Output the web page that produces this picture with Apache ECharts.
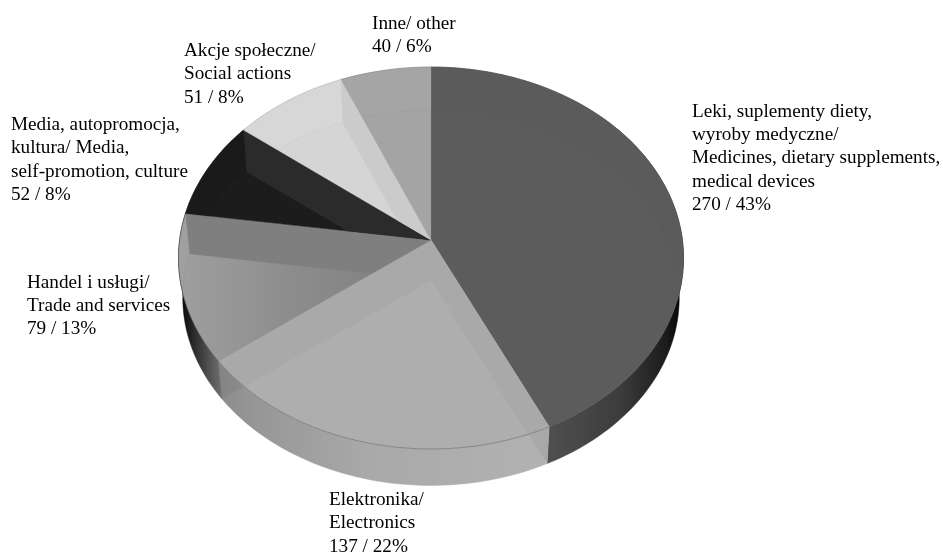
<!DOCTYPE html>
<html>
<head>
<meta charset="utf-8">
<style>html,body{margin:0;padding:0;background:#fff}#chart{width:943px;height:552px}</style>
<script src="https://cdn.jsdelivr.net/npm/echarts@6/dist/echarts.min.js"></script>
</head>
<body>
<div id="chart"></div>
<script>
// Advertising spend categories and their counts / shares
const categories = [
  ['Leki, suplementy diety,', 'wyroby medyczne/', 'Medicines, dietary supplements,', 'medical devices'],
  ['Elektronika/', 'Electronics'],
  ['Handel i usługi/', 'Trade and services'],
  ['Media, autopromocja,', 'kultura/ Media,', 'self-promotion, culture'],
  ['Akcje społeczne/', 'Social actions'],
  ['Inne/ other']
];
const values = [270, 137, 79, 52, 51, 40];
const percents = [43, 22, 13, 8, 8, 6];

// Label anchors (left edge, first line centre)
const labelX = [692, 329, 27, 11, 184, 372];
const labelY = [111.5, 500, 282.5, 125, 51, 24];
const LINE = 23.4;

// Slice shading: top face, radial-wall tint seen through it
const topFill = ['#5b5b5b', '#afafaf', null, '#1a1a1a', '#d7d7d7', '#a5a5a5'];
const wallTint = [null, '#a9a9a9', '#7f7f7f', '#2b2b2b', '#cbcbcb', null];
const wallStops = [
  [[0, '#585858'], [0.45, '#505050'], [0.75, '#3c3c3c'], [0.93, '#1c1c1c'], [1, '#000000']],
  [[0, '#8c8c8c'], [0.12, '#979797'], [0.45, '#a9a9a9'], [1, '#b2b2b2']],
  [[0, '#000000'], [0.35, '#2a2a2a'], [0.8, '#5c5c5c'], [1, '#6e6e6e']],
  [[0, '#222222'], [1, '#222222']],
  [[0, '#c8c8c8'], [1, '#c8c8c8']],
  [[0, '#999999'], [1, '#999999']]
];

// Perspective disc: centre, radius, tilt and the lower face of the cylinder
const CX = 431, TOP_Y = 240, BOTTOM_Y = 280, R = 251.4, H = 189.3, K = 0.0942, BOTTOM_SCALE = 0.983;

const total = values.reduce((a, b) => a + b, 0);
let running = 0;
const rows = values.map((v, i) => {
  const row = [v, running / total * 360, (running + v) / total * 360, i];
  running += v;
  return row;
});

function project(deg, apexY, scale) {
  const t = deg * Math.PI / 180, u = Math.sin(t), v = Math.cos(t), d = 1 + K * v;
  return [CX + R * scale * u / d, apexY - H * scale * v / d];
}
function arc(a0, a1, apexY, scale) {
  const n = Math.max(2, Math.ceil((a1 - a0) / 1.5)), pts = [];
  for (let j = 0; j <= n; j++) pts.push(project(a0 + (a1 - a0) * j / n, apexY, scale));
  return pts;
}
function signedArea(p) {
  let s = 0;
  for (let i = 0; i < p.length; i++) {
    const a = p[i], b = p[(i + 1) % p.length];
    s += a[0] * b[1] - b[0] * a[1];
  }
  return s;
}
// Sutherland-Hodgman clip of a polygon against a convex window
function clip(subject, win) {
  const sign = signedArea(win) > 0 ? 1 : -1;
  let out = subject;
  for (let i = 0; i < win.length && out.length; i++) {
    const a = win[i], b = win[(i + 1) % win.length];
    const side = p => sign * ((b[0] - a[0]) * (p[1] - a[1]) - (b[1] - a[1]) * (p[0] - a[0]));
    const input = out;
    out = [];
    for (let j = 0; j < input.length; j++) {
      const p = input[j], q = input[(j + 1) % input.length], sp = side(p), sq = side(q);
      if (sp >= 0) out.push(p);
      if ((sp >= 0) !== (sq >= 0)) {
        const f = sp / (sp - sq);
        out.push([p[0] + (q[0] - p[0]) * f, p[1] + (q[1] - p[1]) * f]);
      }
    }
  }
  return out;
}
function poly(points, style) {
  return { type: 'polygon', shape: { points }, style };
}
function radialWall(deg) {
  return [[CX, TOP_Y], project(deg, TOP_Y, 1), project(deg, BOTTOM_Y, BOTTOM_SCALE), [CX, BOTTOM_Y]];
}

// Outer rim of the cylinder, with the near radial wall showing through it
function renderWall(params, api) {
  const a0 = api.value(1), a1 = api.value(2), i = api.value(3);
  const topArc = arc(a0, a1, TOP_Y, 1), botArc = arc(a0, a1, BOTTOM_Y, BOTTOM_SCALE);
  const outline = topArc.concat(botArc.slice().reverse());
  const xs = outline.map(p => p[0]);
  const x0 = Math.min.apply(null, xs), x1 = Math.max.apply(null, xs);
  const fill = new echarts.graphic.LinearGradient(x0, 0, x1, 0,
    wallStops[i].map(s => ({ offset: s[0], color: s[1] })), true);
  const children = [poly(outline, { fill, stroke: fill, lineWidth: 0.5 })];
  if (wallTint[i]) {
    [a0, a1].forEach(deg => {
      const seen = clip(outline, radialWall(deg));
      if (seen.length > 2) children.push(poly(seen, { fill: 'rgba(0,0,0,0.05)' }));
    });
  }
  return { type: 'group', children };
}

// Top face of a slice; walls and floor faintly visible through it; label text
function renderTop(params, api) {
  const a0 = api.value(1), a1 = api.value(2), i = api.value(3);
  const topArc = arc(a0, a1, TOP_Y, 1);
  const face = [[CX, TOP_Y]].concat(topArc);
  const fill = topFill[i] || new echarts.graphic.LinearGradient(180, 0, 400, 0, [
    { offset: 0, color: '#a0a0a0' }, { offset: 0.45, color: '#8e8e8e' }, { offset: 1, color: '#808080' }
  ], true);
  const children = [poly(face, { fill, stroke: topFill[i] || '#8c8c8c', lineWidth: 0.4 })];
  const floor = clip([[CX, BOTTOM_Y]].concat(arc(a0, a1, BOTTOM_Y, BOTTOM_SCALE)), face);
  if (floor.length > 2) {
    children.push(poly(floor, { fill: 'rgba(128,128,128,0.02)', stroke: 'rgba(70,70,70,0.05)', lineWidth: 1 }));
  }
  if (wallTint[i]) {
    [a0, a1].forEach(deg => {
      const seen = clip(radialWall(deg), face);
      if (seen.length > 2) children.push(poly(seen, { fill: wallTint[i] }));
    });
  }
  // Rim edge is stronger on the near side of the disc
  const mid = (a0 + a1) / 2;
  children.push({
    type: 'polyline',
    shape: { points: topArc },
    style: { fill: 'none', stroke: (mid > 90 && mid < 270) ? 'rgba(40,40,40,0.28)' : 'rgba(90,90,90,0.12)', lineWidth: 1 }
  });
  if (a0 === 0) {
    children.push({
      type: 'line',
      shape: { x1: CX, y1: TOP_Y, x2: CX, y2: project(0, TOP_Y, 1)[1] },
      style: { stroke: 'rgba(50,50,50,0.3)', lineWidth: 1 }
    });
  }
  const lines = categories[i].concat(values[i] + ' / ' + percents[i] + '%');
  lines.forEach((line, n) => {
    children.push({
      type: 'text',
      z2: 20,
      style: {
        x: labelX[i], y: labelY[i] + n * LINE, text: line,
        fill: '#000', align: 'left', verticalAlign: 'middle',
        font: '19.2px "Liberation Serif", serif'
      }
    });
  });
  return { type: 'group', children };
}

const chart = echarts.init(document.getElementById('chart'), null, { renderer: 'canvas' });
chart.setOption({
  animation: false,
  backgroundColor: '#fff',
  tooltip: { show: false },
  series: [
    { type: 'custom', coordinateSystem: 'none', data: rows, renderItem: renderWall, silent: true, z: 1 },
    { type: 'custom', coordinateSystem: 'none', data: rows, renderItem: renderTop, silent: true, z: 2 }
  ]
});
</script>
</body>
</html>
